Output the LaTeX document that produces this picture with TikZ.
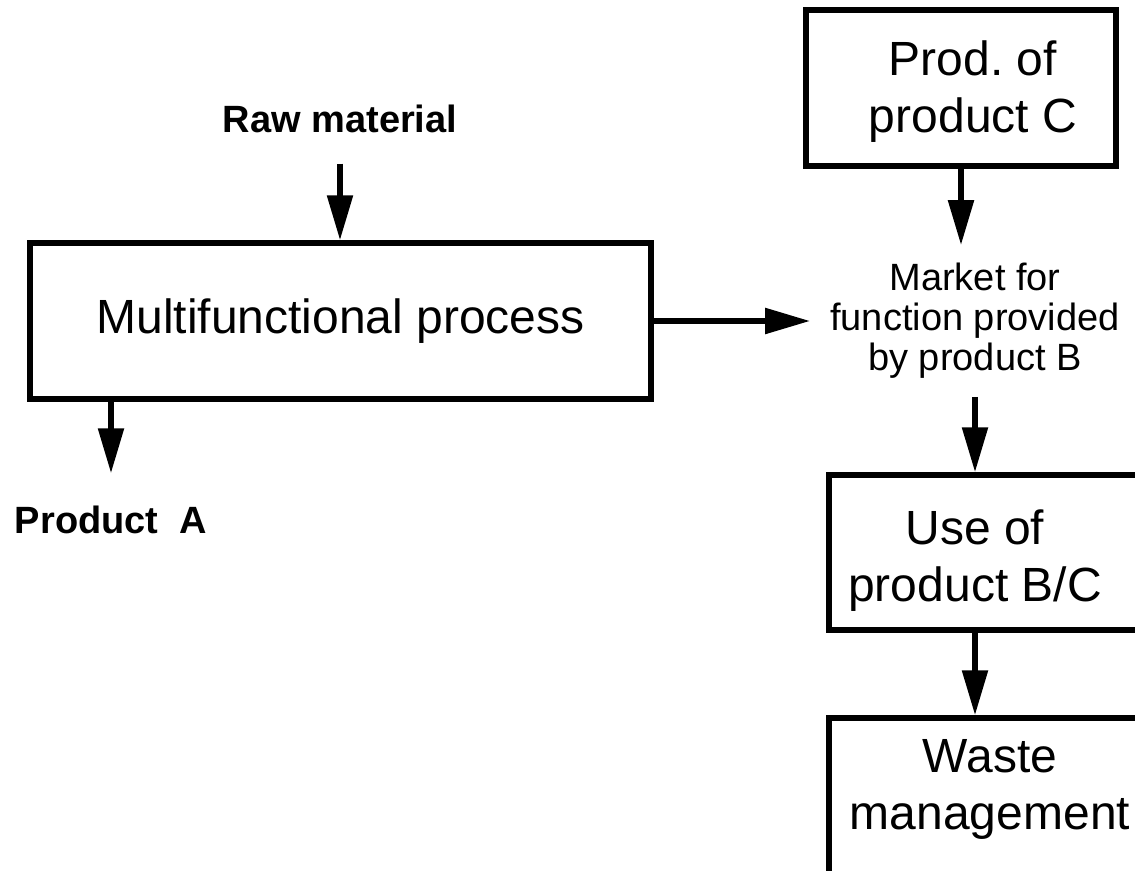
\documentclass[tikz,border=0pt]{standalone}
\usepackage{fontspec}
\setmainfont{Liberation Sans}
\usetikzlibrary{arrows.meta}
\frenchspacing
\tikzset{
  box/.style={draw, line width=5.5pt, inner sep=0pt},
  flow/.style={line width=5.5pt, -{Triangle[length=45pt,width=25pt]}},
  big/.style={font=\fontsize{48}{57}\selectfont, align=center, inner sep=0pt},
  mid/.style={font=\fontsize{38}{40}\selectfont, align=center},
  lbl/.style={font=\bfseries\fontsize{38}{40}\selectfont, inner xsep=0pt},
}
\begin{document}
\begin{tikzpicture}[x=1pt,y=-1pt]
  \useasboundingbox (0,0) rectangle (1135,870);
  \clip (0,0) rectangle (1135,870);

  % left branch: the process with its input and co-product
  \node[lbl, anchor=base, inner ysep=31pt] (raw) at (340,132) {Raw material};
  \node[box, big, minimum width=621pt, minimum height=156pt] (multi) at (340.5,321)
    {Multifunctional process};
  \node[lbl, anchor=base, inner ysep=32pt] (prodA) at (111,533) {Product\ \ A};

  % right column: alternative supply, market, use and disposal
  \node[box, minimum width=310pt, minimum height=156pt] (prodC) at (961,88) {};
  \node[big] (prodCtxt) at (973,92) {Prod. of\\product C};

  \node[mid, inner xsep=20pt, inner ysep=18pt] (market) at (975,321)
    {Market for\\function provided\\by product B};

  \node[box, minimum width=342pt, minimum height=155pt] (use) at (1000,552.5) {};
  \node[big] (usetxt) at (975,561) {Use of\\product B/C};

  \node[box, minimum width=342pt, minimum height=224pt] (waste) at (1000,830) {};
  \node[big] (wastetxt) at (990,789) {Waste\\management};

  % flows
  \draw[flow] (raw.south) -- (raw.south |- multi.north);
  \draw[flow] (prodA.north |- multi.south) -- (prodA.north);
  \draw[flow] (multi.east) -- (multi.east -| market.west);
  \draw[flow] (prodC.south) -- (prodC.south |- market.north);
  \draw[flow] (market.south) -- (market.south |- use.north);
  \draw[flow] (market.south |- use.south) -- (market.south |- waste.north);
\end{tikzpicture}
\end{document}
